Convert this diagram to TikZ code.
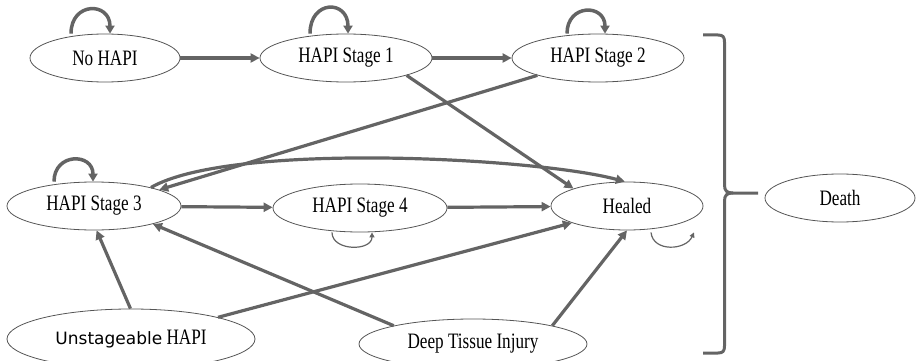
\documentclass[tikz,border=0pt]{standalone}
\usepackage{fontspec}
\setmainfont{Liberation Serif}[FakeStretch=0.78]
\newfontfamily\verdfont{DejaVu Sans}
\usetikzlibrary{shapes.geometric,arrows.meta,calc}
\definecolor{arrowgray}{RGB}{100,100,100}
\definecolor{edgegray}{RGB}{85,85,85}
\begin{document}
\begin{tikzpicture}[x=1pt,y=-1pt,
  state/.style={ellipse,draw=edgegray,line width=0.8pt,inner sep=0pt,minimum height=48pt,font=\fontsize{22}{26}\selectfont},
  flow/.style={draw=arrowgray,line width=3.2pt,-{Triangle[length=9pt,width=9pt]}},
  selfloop/.style={draw=arrowgray,line width=3.5pt,-{Triangle[length=8pt,width=9pt]}},
  thinloop/.style={draw=arrowgray,line width=1.2pt,-{Triangle[length=5pt,width=5pt]}},
  bracket/.style={draw=arrowgray,line width=3pt},
]
\useasboundingbox (0,0) rectangle (916,361);

% states
\node[state,minimum width=150pt] (nohapi) at (105,58) {No HAPI};
\node[state,minimum width=172pt] (s1) at (346,58) {HAPI Stage 1};
\node[state,minimum width=172pt] (s2) at (598,58) {HAPI Stage 2};
\node[state,minimum width=174pt] (s3) at (94,206) {HAPI Stage 3};
\node[state,minimum width=174pt] (s4) at (360,208) {HAPI Stage 4};
\node[state,minimum width=152pt] (healed) at (627,206) {Healed};
\node[state,minimum width=150pt] (death) at (840,198) {Death};
\node[state,minimum width=248pt,minimum height=60pt] (unst) at (131,339) {{\verdfont\fontsize{17}{20}\selectfont Unstageable} HAPI};
\node[state,minimum width=228pt,minimum height=50pt] (dti) at (473,344) {Deep Tissue Injury};

% transitions
\draw[flow] (nohapi) -- (s1);
\draw[flow] (s1) -- (s2);
\draw[flow] (s1.-16) -- (healed.162);
\draw[flow] (s2.196) -- (s3.14);
\draw[flow] (s3.18) .. controls +(80,-46) and +(-89,-24) .. (healed.95);
\draw[flow] (s3) -- (s4);
\draw[flow] (s4) -- (healed);
\draw[flow] (unst.91) -- (s3.-84);
\draw[flow] (unst.14) -- (healed.-163);
\draw[flow] (dti.167) -- (s3.-17);
\draw[flow] (dti.13) -- (healed.south);

% self loops
\draw[selfloop] ([xshift=-34pt]nohapi.north) .. controls +(0,-32) and +(0,-32) .. ([xshift=5pt]nohapi.north);
\draw[selfloop] ([xshift=-36pt]s1.north) .. controls +(0,-34) and +(0,-34) .. ([xshift=2pt]s1.north);
\draw[selfloop] ([xshift=-31pt]s2.north) .. controls +(0,-30) and +(0,-30) .. ([xshift=7pt]s2.north);
\draw[selfloop] ([xshift=-40pt]s3.north) .. controls +(0,-29) and +(0,-29) .. ([xshift=-1pt]s3.north);
\draw[thinloop] ([xshift=-28pt]s4.south) .. controls +(0,19) and +(0,19) .. ([xshift=12pt]s4.south);
\draw[thinloop] ([xshift=24pt,yshift=-2pt]healed.south) .. controls +(2,20) and +(-8,18) .. ([xshift=67pt,yshift=-2pt]healed.south);

% bracket towards Death
\draw[bracket] (703,35) -- (718,35) .. controls (723,35) and (724.5,37) .. (724.5,42) -- (724.5,185)
  .. controls (724.5,191) and (727,193) .. (733,193) -- (758,193);
\draw[bracket] (733,193) .. controls (727,193) and (724.5,195) .. (724.5,201) -- (724.5,346)
  .. controls (724.5,351) and (723,353) .. (718,353) -- (703,353);
\end{tikzpicture}
\end{document}
